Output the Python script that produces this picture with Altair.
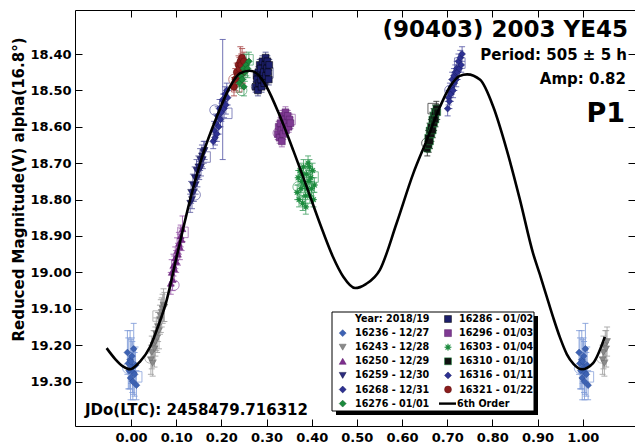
import altair as alt
import pandas as pd
import numpy as np

FONT = "DejaVu Sans"

# ---------------- data ----------------
sessions = ["16236 - 12/27", "16243 - 12/28", "16250 - 12/29", "16259 - 12/30",
            "16268 - 12/31", "16276 - 01/01", "16286 - 01/02", "16296 - 01/03",
            "16303 - 01/04", "16310 - 01/10", "16316 - 01/11", "16321 - 01/22"]

p_16236 = [-0.008, -0.006, -0.004, -0.002, -0.001, 0.000, 0.002, 0.003, 0.004, 0.005, 0.006, 0.008, 0.010, 0.012]
m_16236 = [19.22, 19.25, 19.27, 19.24, 19.29, 19.245, 19.23, 19.26, 19.30, 19.275, 19.21, 19.28, 19.255, 19.31]
e_16236 = [0.06, 0.07, 0.05, 0.08, 0.06, 0.06, 0.05, 0.07, 0.05, 0.06, 0.07, 0.06, 0.05, 0.04]

p_16243 = [0.044, 0.046, 0.048, 0.050, 0.052, 0.054, 0.056, 0.058, 0.060, 0.062, 0.064, 0.066, 0.068, 0.070, 0.072, 0.074]
m_16243 = [19.24, 19.22, 19.25, 19.20, 19.21, 19.19, 19.17, 19.18, 19.15, 19.16, 19.13, 19.12, 19.11, 19.10, 19.09, 19.095]
e_16243 = [0.04, 0.045, 0.035, 0.04, 0.05, 0.04, 0.045, 0.04, 0.04, 0.05, 0.04, 0.045, 0.04, 0.04, 0.045, 0.04]

p_16250 = [0.088, 0.090, 0.092, 0.094, 0.096, 0.098, 0.100, 0.102, 0.104, 0.106, 0.108, 0.110, 0.112, 0.114]
m_16250 = [19.03, 19.00, 19.02, 18.98, 18.99, 18.96, 18.97, 18.94, 18.95, 18.92, 18.93, 18.90, 18.91, 18.88]
e_16250 = [0.03, 0.035, 0.03, 0.03, 0.035, 0.03, 0.03, 0.035, 0.03, 0.03, 0.035, 0.03, 0.03, 0.035]

p_16259 = [0.131, 0.133, 0.135, 0.137, 0.139, 0.141, 0.143, 0.145, 0.147, 0.149, 0.151, 0.153, 0.155, 0.157, 0.159, 0.161, 0.163]
m_16259 = [18.81, 18.78, 18.80, 18.76, 18.78, 18.74, 18.76, 18.72, 18.74, 18.71, 18.72, 18.69, 18.71, 18.68, 18.69, 18.67, 18.665]
e_16259 = [0.025, 0.03, 0.025, 0.03, 0.025, 0.03, 0.025, 0.03, 0.025, 0.03, 0.025, 0.03, 0.025, 0.03, 0.025, 0.03, 0.025]

p_16268 = [0.182, 0.184, 0.186, 0.188, 0.190, 0.192, 0.194, 0.196, 0.198, 0.200, 0.203, 0.204, 0.206, 0.208, 0.210, 0.212, 0.214]
m_16268 = [18.64, 18.61, 18.63, 18.59, 18.62, 18.57, 18.60, 18.55, 18.58, 18.56, 18.525, 18.53, 18.55, 18.51, 18.54, 18.50, 18.52]
e_16268 = [0.02, 0.025, 0.02, 0.025, 0.02, 0.025, 0.02, 0.025, 0.02, 0.025, 0.165, 0.02, 0.025, 0.02, 0.025, 0.02, 0.02]

p_16276 = [0.240, 0.243, 0.246, 0.249, 0.250, 0.252, 0.255, 0.258, 0.261]
m_16276 = [18.48, 18.46, 18.47, 18.44, 18.49, 18.45, 18.43, 18.44, 18.42]
e_16276 = [0.025, 0.03, 0.025, 0.03, 0.025, 0.025, 0.03, 0.025, 0.025]

p_16286 = [0.276, 0.278, 0.279, 0.281, 0.282, 0.284, 0.285, 0.287, 0.288, 0.289, 0.291,
           0.292, 0.294, 0.295, 0.297, 0.298, 0.299, 0.301, 0.302, 0.304, 0.305, 0.306]
m_16286 = [18.49, 18.46, 18.47, 18.50, 18.45, 18.48, 18.43, 18.44, 18.47, 18.49, 18.42,
           18.46, 18.45, 18.48, 18.43, 18.41, 18.46, 18.44, 18.42, 18.45, 18.47, 18.43]
e_16286 = [0.015] * 22

p_16296 = [0.325, 0.327, 0.329, 0.331, 0.333, 0.334, 0.335, 0.337, 0.339, 0.341, 0.342, 0.343, 0.345, 0.347, 0.349, 0.351, 0.353]
m_16296 = [18.62, 18.60, 18.63, 18.59, 18.61, 18.64, 18.57, 18.62, 18.60, 18.58, 18.56, 18.61, 18.59, 18.57, 18.60, 18.58, 18.59]
e_16296 = [0.015] * 17

p_16303 = [0.368, 0.370, 0.372, 0.374, 0.376, 0.378, 0.379, 0.380, 0.382, 0.384, 0.386, 0.387,
           0.388, 0.390, 0.392, 0.394, 0.395, 0.396, 0.398, 0.400, 0.402, 0.404, 0.406]
m_16303 = [18.78, 18.74, 18.80, 18.72, 18.77, 18.75, 18.73, 18.81, 18.71, 18.76, 18.79, 18.82,
           18.73, 18.77, 18.70, 18.75, 18.71, 18.79, 18.74, 18.77, 18.72, 18.80, 18.76]
e_16303 = [0.02] * 23

p_16310 = [0.656, 0.658, 0.659, 0.661, 0.662, 0.664, 0.665, 0.667, 0.668, 0.670, 0.671, 0.673, 0.674, 0.676, 0.678]
m_16310 = [18.66, 18.63, 18.65, 18.61, 18.64, 18.60, 18.62, 18.58, 18.61, 18.57, 18.59, 18.56, 18.58, 18.55, 18.56]
e_16310 = [0.02] * 15

p_16316 = [0.701, 0.703, 0.705, 0.706, 0.708, 0.710, 0.711, 0.713, 0.715, 0.716,
           0.718, 0.720, 0.721, 0.723, 0.725, 0.727, 0.729, 0.731, 0.733]
m_16316 = [18.55, 18.52, 18.53, 18.50, 18.51, 18.49, 18.47, 18.50, 18.46, 18.48,
           18.45, 18.47, 18.44, 18.45, 18.42, 18.44, 18.41, 18.43, 18.40]
e_16316 = [0.02] * 19

p_16321 = [0.228, 0.231, 0.234, 0.236, 0.238, 0.240, 0.242, 0.244, 0.246, 0.248, 0.250]
m_16321 = [18.49, 18.47, 18.45, 18.46, 18.43, 18.44, 18.42, 18.43, 18.41, 18.45, 18.42]
e_16321 = [0.025, 0.03, 0.025, 0.03, 0.025, 0.03, 0.04, 0.03, 0.025, 0.03, 0.025]

# hollow circle / square markers shown with each session
open_circle_phase = [-0.007, 0.042, 0.095, 0.142, 0.186, 0.245, 0.278, 0.326, 0.370, 0.655, 0.706, 0.228]
open_circle_mag = [19.263, 19.235, 19.035, 18.787, 18.554, 18.50, 18.49, 18.617, 18.765, 18.645, 18.50, 18.47]
open_square_phase = [0.0126, 0.060, 0.115, 0.164, 0.212, 0.259, 0.303, 0.352, 0.403, 0.669, 0.728, 0.234]
open_square_mag = [19.287, 19.12, 18.89, 18.683, 18.563, 18.416, 18.452, 18.58, 18.738, 18.55, 18.425, 18.49]

# 6th order Fourier fit
curve_phase = [-0.054, -0.035, -0.018, -0.002, 0.02, 0.042, 0.06, 0.079, 0.101, 0.131, 0.16, 0.19,
               0.219, 0.241, 0.263, 0.28, 0.30, 0.33, 0.359, 0.389, 0.418, 0.447, 0.47, 0.496,
               0.52, 0.551, 0.588, 0.625, 0.655, 0.684, 0.706, 0.728, 0.744, 0.773, 0.802, 0.832,
               0.861, 0.89, 0.905, 0.92, 0.935, 0.95, 0.965, 0.98, 0.998, 1.023, 1.049]
curve_mag = [19.208, 19.238, 19.258, 19.266, 19.245, 19.205, 19.148, 19.076, 18.957, 18.80, 18.672, 18.572,
             18.49, 18.453, 18.446, 18.455, 18.49, 18.572, 18.664, 18.765, 18.865, 18.957, 19.012, 19.043,
             19.032, 18.993, 18.865, 18.728, 18.636, 18.545, 18.49, 18.46, 18.456, 18.471, 18.545, 18.664,
             18.80, 18.947, 19.005, 19.065, 19.125, 19.18, 19.225, 19.252, 19.266, 19.249, 19.177]

x_ticks = [0.0, 0.1, 0.2, 0.3, 0.4, 0.5, 0.6, 0.7, 0.8, 0.9, 1.0]
y_ticks = [18.4, 18.5, 18.6, 18.7, 18.8, 18.9, 19.0, 19.1, 19.2, 19.3]

# ---------------- styles ----------------
fill_colors = ["#3d62b3", "#8a8a8a", "#7e2e8e", "#2c2c7e", "#2e3192", "#1b8a3c",
               "#1c1f6b", "#7f3a93", "#1b8a3c", "#111111", "#2e3192", "#8b1d1d"]
stroke_colors = ["#2a4a94", "#666666", "#5a1a6a", "#111144", "#151860", "#0e5a24",
                 "#000000", "#551f66", "#1b8a3c", "#1b8a3c", "#151860", "#5a0f0f"]
stroke_widths = [0.5, 0.5, 0.5, 0.5, 0.5, 0.5, 0.8, 0.5, 1.0, 1.6, 0.5, 0.5]
err_colors = ["#7f9bd8", "#a0a0a0", "#9a5aaa", "#5a5aa0", "#5a5ca8", "#4aa46a",
              "#4a4e8e", "#9a62aa", "#4aa46a", "#2a2a2a", "#5a5ca8", "#aa4a4a"]

ang = np.arange(16) * np.pi / 8
rad = np.where(np.arange(16) % 2 == 0, 1.0, 0.45)
ASTERISK = "M" + "L".join(f"{r*np.sin(a):.3f},{-r*np.cos(a):.3f}" for r, a in zip(rad, ang)) + "Z"
shapes = ["diamond", "triangle-down", "triangle-up", "triangle-down", "diamond", "diamond",
          "square", "square", ASTERISK, "square", "diamond", "circle"]

W, H = 560, 416
XMIN, XMAX = -0.1240, 1.1158
YMIN, YMAX = 18.2791, 19.4220


def px2x(px):
    return XMIN + px / W * (XMAX - XMIN)


def py2y(py):
    return YMIN + py / H * (YMAX - YMIN)


xs = alt.Scale(domain=[XMIN, XMAX], nice=False, zero=False)
ys = alt.Scale(domain=[YMIN, YMAX], reverse=True, nice=False, zero=False)
shape_scale = alt.Scale(domain=sessions, range=shapes)
fill_scale = alt.Scale(domain=sessions, range=fill_colors)
stroke_scale = alt.Scale(domain=sessions, range=stroke_colors)
sw_scale = alt.Scale(domain=sessions, range=stroke_widths)
err_scale = alt.Scale(domain=sessions, range=err_colors)

# ---------------- tables ----------------
series = {
    "16236": (p_16236, m_16236, e_16236), "16243": (p_16243, m_16243, e_16243),
    "16250": (p_16250, m_16250, e_16250), "16259": (p_16259, m_16259, e_16259),
    "16268": (p_16268, m_16268, e_16268), "16276": (p_16276, m_16276, e_16276),
    "16286": (p_16286, m_16286, e_16286), "16296": (p_16296, m_16296, e_16296),
    "16303": (p_16303, m_16303, e_16303), "16310": (p_16310, m_16310, e_16310),
    "16316": (p_16316, m_16316, e_16316), "16321": (p_16321, m_16321, e_16321),
}
rows = []
for s in sessions:
    p, m, e = series[s[:5]]
    for pi_, mi, ei in zip(p, m, e):
        rows.append((s, pi_, mi, ei))
        if pi_ < 0.055:
            rows.append((s, pi_ + 1.0, mi, ei))
pts = pd.DataFrame(rows, columns=["session", "phase", "mag", "err"])
pts["lo"] = pts["mag"] - pts["err"]
pts["hi"] = pts["mag"] + pts["err"]
order = ["16236 - 12/27", "16243 - 12/28", "16250 - 12/29", "16259 - 12/30", "16268 - 12/31",
         "16321 - 01/22", "16276 - 01/01", "16286 - 01/02", "16296 - 01/03", "16303 - 01/04",
         "16310 - 01/10", "16316 - 01/11"]
pts["ord"] = pts["session"].map({s: i for i, s in enumerate(order)})
pts = pts.sort_values(["ord", "phase"]).reset_index(drop=True)

crow, srow = [], []
for i, s in enumerate(sessions):
    for target, ph, mg in ((crow, open_circle_phase[i], open_circle_mag[i]),
                           (srow, open_square_phase[i], open_square_mag[i])):
        target.append((s, ph, mg))
        if ph < 0.055:
            target.append((s, ph + 1.0, mg))
open_c = pd.DataFrame(crow, columns=["session", "phase", "mag"])
open_s = pd.DataFrame(srow, columns=["session", "phase", "mag"])

curve = pd.DataFrame({"phase": curve_phase, "mag": curve_mag})

# ---------------- layers ----------------
X = lambda f: alt.X(f, scale=xs, axis=None)
Y = lambda f: alt.Y(f, scale=ys, axis=None)
ECOL = alt.Color("session:N", scale=err_scale, legend=None)

err_rule = alt.Chart(pts).mark_rule(strokeWidth=1, opacity=0.85).encode(
    x=X("phase:Q"), y=Y("lo:Q"), y2="hi:Q", color=ECOL)
cap_lo = alt.Chart(pts).mark_tick(orient="horizontal", size=6, thickness=1, opacity=0.85).encode(
    x=X("phase:Q"), y=Y("lo:Q"), color=ECOL)
cap_hi = alt.Chart(pts).mark_tick(orient="horizontal", size=6, thickness=1, opacity=0.85).encode(
    x=X("phase:Q"), y=Y("hi:Q"), color=ECOL)

opens_c = alt.Chart(open_c).mark_point(shape="circle", filled=False, size=110, strokeWidth=0.9, opacity=0.8).encode(
    x=X("phase:Q"), y=Y("mag:Q"), color=ECOL)
opens_s = alt.Chart(open_s).mark_point(shape="square", filled=False, size=110, strokeWidth=0.9, opacity=0.8).encode(
    x=X("phase:Q"), y=Y("mag:Q"), color=ECOL)

markers = alt.Chart(pts).mark_point(filled=True, size=46, opacity=1).encode(
    x=X("phase:Q"), y=Y("mag:Q"),
    shape=alt.Shape("session:N", scale=shape_scale, legend=None),
    fill=alt.Fill("session:N", scale=fill_scale, legend=None),
    stroke=alt.Stroke("session:N", scale=stroke_scale, legend=None),
    strokeWidth=alt.StrokeWidth("session:N", scale=sw_scale, legend=None),
    order=alt.Order("ord:Q"))

lab = dict(labelFont=FONT, labelFontWeight="bold", labelFontSize=13, labelColor="black")

curve_line = alt.Chart(curve).mark_line(color="black", strokeWidth=2.6, interpolate="monotone").encode(
    x=alt.X("phase:Q", scale=xs, axis=alt.Axis(
        orient="bottom", values=x_ticks, format=".2f", ticks=False, tickSize=0, labelPadding=5,
        domain=True, domainColor="black", domainWidth=1, grid=False, title=None, **lab)),
    y=alt.Y("mag:Q", scale=ys, axis=alt.Axis(
        orient="left", values=y_ticks, format=".2f", ticks=False, tickSize=0, labelPadding=4,
        domain=True, domainColor="black", domainWidth=1, grid=False,
        title="Reduced Magnitude(V) alpha(16.8°)", titleFont=FONT, titleFontWeight="bold",
        titleFontSize=15, titleColor="black", titleAngle=270, titleX=-57, titleY=179,
        titleAlign="center", titleBaseline="middle", **lab)))

tickax = dict(labels=False, domain=False, ticks=True, tickSize=7, tickColor="black", tickWidth=1,
              grid=False, title=None)
ticks_a = alt.Chart(curve).mark_line(opacity=0).encode(
    x=alt.X("phase:Q", scale=xs, axis=alt.Axis(orient="top", offset=-H, values=x_ticks, **tickax)),
    y=alt.Y("mag:Q", scale=ys, axis=alt.Axis(orient="right", offset=-W, values=y_ticks, **tickax)))
ticks_b = alt.Chart(curve).mark_line(opacity=0).encode(
    x=alt.X("phase:Q", scale=xs, axis=alt.Axis(orient="bottom", offset=-H, values=x_ticks,
                                               labels=False, domain=True, domainColor="black",
                                               domainWidth=1, ticks=True, tickSize=7,
                                               tickColor="black", tickWidth=1, grid=False, title=None)),
    y=alt.Y("mag:Q", scale=ys, axis=alt.Axis(orient="left", offset=-W, values=y_ticks, **tickax)))

# ---------------- annotations ----------------
def txt(s, x, y, size, align):
    return alt.Chart(pd.DataFrame({"t": [s]})).mark_text(
        font=FONT, fontWeight="bold", fontSize=size, align=align, baseline="middle", color="black"
    ).encode(text="t:N", x=alt.value(x), y=alt.value(y))

title = txt("(90403) 2003 YE45", 553, 19.5, 23, "right")
period = txt("Period: 505 ± 5 h", 552, 45, 15, "right")
amp = txt("Amp: 0.82", 551, 69, 15, "right")
p1 = txt("P1", 550, 104, 27, "right")
jdo = txt("JDo(LTC): 2458479.716312", 10, 400, 15, "left")

# ---------------- legend ----------------
box = pd.DataFrame({"x": [px2x(257)], "x2": [px2x(459)], "y": [py2y(302)], "y2": [py2y(401)]})
shadow = pd.DataFrame({"x": [px2x(261)], "x2": [px2x(463)], "y": [py2y(306)], "y2": [py2y(405)]})
shadow_rect = alt.Chart(shadow).mark_rect(color="black").encode(
    x=X("x:Q"), x2="x2:Q", y=Y("y:Q"), y2="y2:Q")
box_rect = alt.Chart(box).mark_rect(fill="white", stroke="black", strokeWidth=1).encode(
    x=X("x:Q"), x2="x2:Q", y=Y("y:Q"), y2="y2:Q")

ROW0, DROW = 309.0, 14.1
leg_rows = []
for i, s in enumerate(sessions):
    col, r = (0, i + 1) if i < 6 else (1, i - 6)
    leg_rows.append((s, px2x(267.7 if col == 0 else 373), px2x(280 if col == 0 else 384), py2y(ROW0 + r * DROW)))
leg = pd.DataFrame(leg_rows, columns=["session", "sx", "tx", "ly"])
leg_sym = alt.Chart(leg).mark_point(filled=True, size=48, opacity=1).encode(
    x=X("sx:Q"), y=Y("ly:Q"),
    shape=alt.Shape("session:N", scale=shape_scale, legend=None),
    fill=alt.Fill("session:N", scale=fill_scale, legend=None),
    stroke=alt.Stroke("session:N", scale=stroke_scale, legend=None),
    strokeWidth=alt.StrokeWidth("session:N", scale=sw_scale, legend=None))
extra = pd.DataFrame({"session": ["Year: 2018/19", "6th Order"],
                      "tx": [px2x(280), px2x(382)], "ly": [py2y(ROW0), py2y(ROW0 + 6 * DROW)]})
leg_txt = alt.Chart(pd.concat([leg[["session", "tx", "ly"]], extra])).mark_text(
    font=FONT, fontWeight="bold", fontSize=9.6, align="left", baseline="middle", color="black"
).encode(x=X("tx:Q"), y=Y("ly:Q"), text="session:N")
leg_line = alt.Chart(pd.DataFrame({"x": [px2x(364)], "x2": [px2x(381)], "y": [py2y(ROW0 + 6 * DROW)]})).mark_rule(
    color="black", strokeWidth=2.4).encode(x=X("x:Q"), x2="x2:Q", y=Y("y:Q"))

chart = alt.layer(
    ticks_a, ticks_b, err_rule, cap_lo, cap_hi, opens_c, opens_s, markers, curve_line,
    title, period, amp, p1, jdo,
    shadow_rect, box_rect, leg_sym, leg_txt, leg_line,
).resolve_axis(x="independent", y="independent").properties(
    width=W, height=H,
    padding={"left": 75, "top": 10, "right": 0, "bottom": 18},
    autosize=alt.AutoSizeParams(type="none"),
    background="white",
).configure_view(stroke=None)

chart.save("out.html", embed_options={"renderer": "svg", "actions": False})
